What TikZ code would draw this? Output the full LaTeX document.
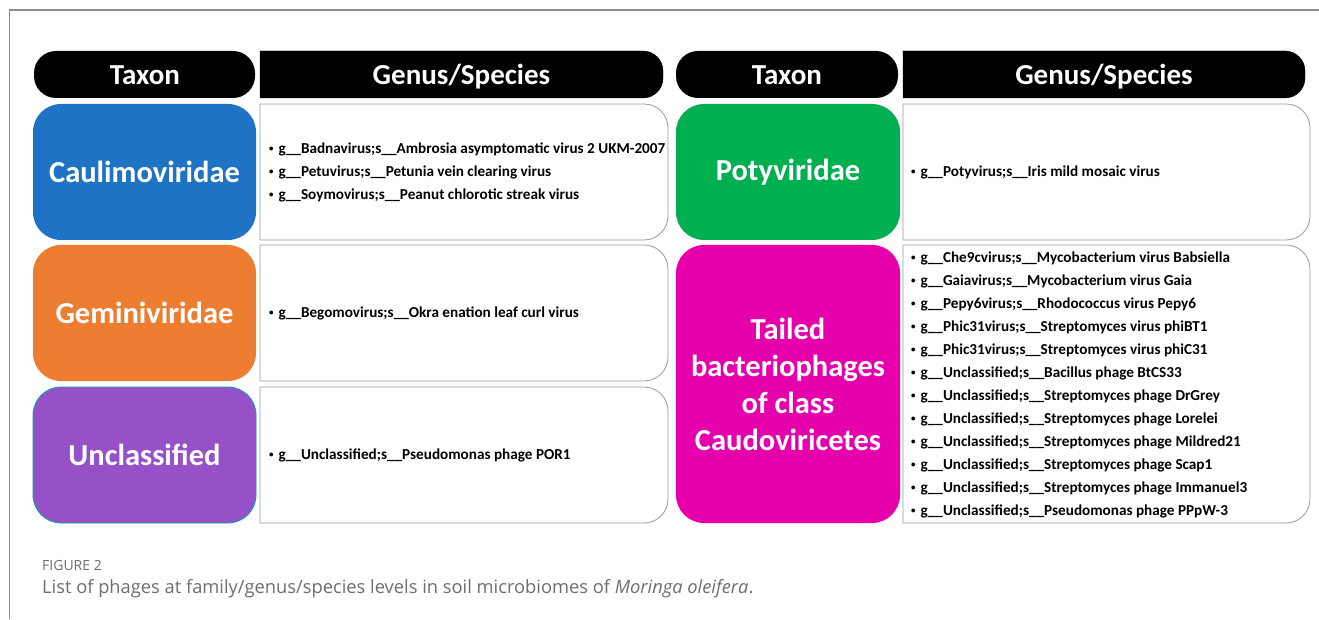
\documentclass[tikz,border=0pt]{standalone}
\usepackage{fontspec}
\setmainfont{Carlito}
\newfontfamily\capfont{Open Sans}
\definecolor{cblue}{HTML}{1F73C5}
\definecolor{corange}{HTML}{ED7D31}
\definecolor{cpurple}{HTML}{9651C8}
\definecolor{cgreen}{HTML}{00B050}
\definecolor{cmagenta}{HTML}{E500AC}
\definecolor{frame}{HTML}{8C8C8C}
\definecolor{boxline}{HTML}{9A9A9A}
\definecolor{captxt}{HTML}{6E6E6E}
\newcommand{\rrbox}[6]{\draw[#1] (#2,#3) -- ({#4-#6},#3) arc[start angle=90,end angle=0,radius=#6] -- (#4,{#5+#6}) arc[start angle=0,end angle=-90,radius=#6] -- (#2,#5) -- cycle;}
\tikzset{
  taxonbox/.style={text=white,font=\fontsize{30.5}{37}\selectfont\bfseries,align=center},
  hdrtxt/.style={text=white,anchor=base,inner sep=0pt,font=\fontsize{29}{32}\selectfont\bfseries},
  listtxt/.style={anchor=west,align=left,inner sep=0pt,font=\fontsize{15.2}{23}\selectfont\bfseries},
  cbox/.style={draw=boxline,fill=white,line width=0.8pt},
}
\newcommand{\itm}[1]{{\fontsize{9}{9}\selectfont\raisebox{1.5pt}{\textbullet}}\hspace{5pt}#1}
\begin{document}
\begin{tikzpicture}[x=1pt,y=1pt]
\useasboundingbox (0,0) rectangle (1319,619);
\fill[white] (0,0) rectangle (1319,619);
% frame
\draw[frame,line width=1.2pt] (9.5,0) -- (9.5,609) -- (1319,609);
% headers left
\fill[black,rounded corners=22pt] (34,521) rectangle (255,568);
\rrbox{fill=black}{260}{568}{663}{521}{20}
\node[hdrtxt] (hT1) at (145,534) {Taxon};
\node[hdrtxt] (hG1) at (461.5,534) {Genus/Species};
% headers right
\fill[black,rounded corners=22pt] (676,521) rectangle (898,568);
\rrbox{fill=black}{903}{568}{1305}{521}{20}
\node[hdrtxt] (hT2) at (787,534) {Taxon};
\node[hdrtxt] (hG2) at (1104,534) {Genus/Species};
% taxon boxes
\fill[cblue,rounded corners=28pt] (33,379) rectangle (256,515);
\fill[corange,rounded corners=28pt] (33,238) rectangle (256,374);
\filldraw[fill=cpurple,draw=teal!70!cyan,line width=0.8pt,rounded corners=28pt] (33,96) rectangle (256,232);
\fill[cgreen,rounded corners=28pt] (676,379) rectangle (900,515);
\fill[cmagenta,rounded corners=28pt] (676,96) rectangle (900,374);
\node[taxonbox] (t1) at (144.5,447) {Caulimoviridae};
\node[taxonbox] (t2) at (144.5,306) {Geminiviridae};
\node[taxonbox] (t3) at (144.5,164) {Unclassified};
\node[taxonbox] (t4) at (788,447) {Potyviridae};
\node[taxonbox] (t5) at (788,235) {Tailed\\bacteriophages\\of class\\Caudoviricetes};
% content boxes
\rrbox{cbox}{260}{515}{668}{379}{24}
\rrbox{cbox}{260}{374}{668}{238}{24}
\rrbox{cbox}{260}{232}{668}{96}{24}
\rrbox{cbox}{903}{515}{1310}{379}{24}
\rrbox{cbox}{903}{374}{1310}{96}{24}
\node[listtxt] (l1) at (269,447) {\itm{g\_\_Badnavirus;s\_\_Ambrosia asymptomatic virus 2 UKM-2007}\\
\itm{g\_\_Petuvirus;s\_\_Petunia vein clearing virus}\\
\itm{g\_\_Soymovirus;s\_\_Peanut chlorotic streak virus}};
\node[listtxt] (l2) at (269,306) {\itm{g\_\_Begomovirus;s\_\_Okra enation leaf curl virus}};
\node[listtxt] (l3) at (269,164) {\itm{g\_\_Unclassified;s\_\_Pseudomonas phage POR1}};
\node[listtxt] (l4) at (911,447) {\itm{g\_\_Potyvirus;s\_\_Iris mild mosaic virus}};
\node[listtxt] (l5) at (911,234.5) {\itm{g\_\_Che9cvirus;s\_\_Mycobacterium virus Babsiella}\\
\itm{g\_\_Gaiavirus;s\_\_Mycobacterium virus Gaia}\\
\itm{g\_\_Pepy6virus;s\_\_Rhodococcus virus Pepy6}\\
\itm{g\_\_Phic31virus;s\_\_Streptomyces virus phiBT1}\\
\itm{g\_\_Phic31virus;s\_\_Streptomyces virus phiC31}\\
\itm{g\_\_Unclassified;s\_\_Bacillus phage BtCS33}\\
\itm{g\_\_Unclassified;s\_\_Streptomyces phage DrGrey}\\
\itm{g\_\_Unclassified;s\_\_Streptomyces phage Lorelei}\\
\itm{g\_\_Unclassified;s\_\_Streptomyces phage Mildred21}\\
\itm{g\_\_Unclassified;s\_\_Streptomyces phage Scap1}\\
\itm{g\_\_Unclassified;s\_\_Streptomyces phage Immanuel3}\\
\itm{g\_\_Unclassified;s\_\_Pseudomonas phage PPpW-3}};
% caption
\node[anchor=west,inner sep=0pt,text=captxt,font=\capfont\fontsize{14}{16}\selectfont] (fig) at (42,54) {FIGURE 2};
\node[anchor=west,inner sep=0pt,text=captxt,font=\capfont\fontsize{18.3}{20}\selectfont] (cap) at (42,30) {List of phages at family/genus/species levels in soil microbiomes of \textit{Moringa oleifera}.};
\end{tikzpicture}
\end{document}
